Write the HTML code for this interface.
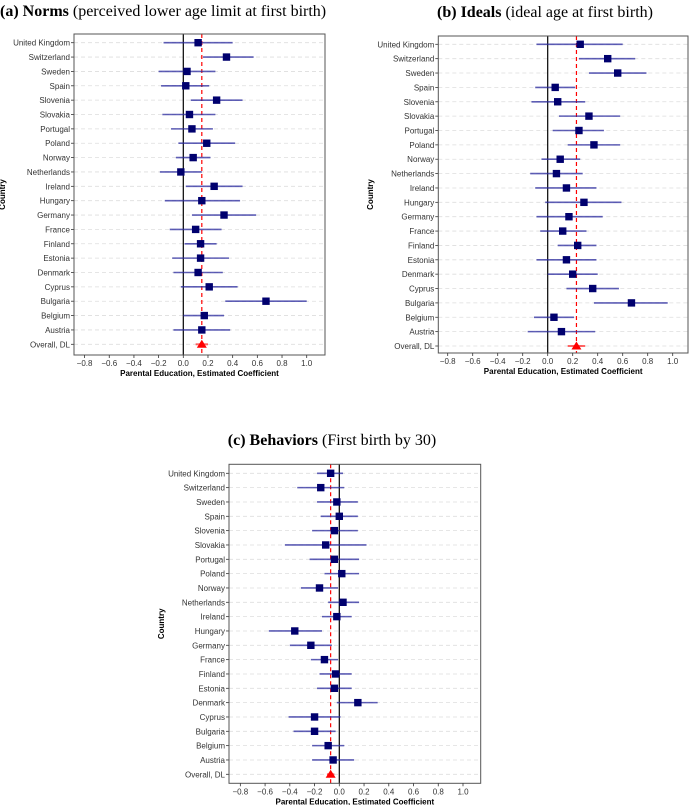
<!DOCTYPE html>
<html><head><meta charset="utf-8"><style>
body{margin:0;background:#fff;width:690px;height:805px;overflow:hidden}
svg{position:absolute;left:0;top:0}
.t{font-family:"Liberation Serif",serif;font-size:16px;fill:#000}
.l{font-family:"Liberation Sans",sans-serif;font-size:8px;fill:#333}
.ax{font-family:"Liberation Sans",sans-serif;font-size:8px;font-weight:bold;fill:#000}
</style></head><body>
<svg id="chart" width="690" height="805">
<text class="t" x="0" y="16"><tspan font-weight="bold">(a) Norms</tspan> (perceived lower age limit at first birth)</text>
<text class="t" x="545" y="17" text-anchor="middle"><tspan font-weight="bold">(b) Ideals</tspan> (ideal age at first birth)</text>
<text class="t" x="332" y="445" text-anchor="middle"><tspan font-weight="bold">(c) Behaviors</tspan> (First birth by 30)</text>
</svg>
<script>
const countries=["United Kingdom","Switzerland","Sweden","Spain","Slovenia","Slovakia","Portugal","Poland","Norway","Netherlands","Ireland","Hungary","Germany","France","Finland","Estonia","Denmark","Cyprus","Bulgaria","Belgium","Austria","Overall, DL"];
const ticks=[-0.8,-0.6,-0.4,-0.2,0.0,0.2,0.4,0.6,0.8,1.0];
const normsEst=[0.12,0.35,0.03,0.02,0.27,0.05,0.07,0.19,0.08,-0.02,0.25,0.15,0.33,0.10,0.14,0.14,0.12,0.21,0.67,0.17,0.15,0.15];
const normsLo=[-0.16,0.16,-0.20,-0.18,0.06,-0.17,-0.10,-0.04,-0.06,-0.19,0.02,-0.15,0.07,-0.11,0.01,-0.09,-0.08,-0.02,0.34,0.00,-0.08,0.10];
const normsHi=[0.40,0.57,0.26,0.21,0.48,0.26,0.24,0.42,0.22,0.15,0.48,0.46,0.59,0.31,0.27,0.37,0.32,0.44,1.00,0.33,0.38,0.20];
const idealsEst=[0.26,0.48,0.56,0.06,0.08,0.33,0.25,0.37,0.10,0.07,0.15,0.29,0.17,0.12,0.24,0.15,0.20,0.36,0.67,0.05,0.11,0.23];
const idealsLo=[-0.09,0.25,0.33,-0.10,-0.13,0.09,0.04,0.16,-0.05,-0.14,-0.10,-0.02,-0.09,-0.06,0.08,-0.09,0.00,0.15,0.37,-0.11,-0.16,0.16];
const idealsHi=[0.60,0.70,0.79,0.22,0.30,0.58,0.45,0.58,0.26,0.28,0.39,0.59,0.44,0.31,0.39,0.39,0.40,0.57,0.96,0.21,0.38,0.30];
const behEst=[-0.07,-0.15,-0.02,0.00,-0.04,-0.11,-0.04,0.02,-0.16,0.03,-0.02,-0.36,-0.23,-0.12,-0.03,-0.04,0.15,-0.20,-0.20,-0.09,-0.05,-0.07];
const behLo=[-0.18,-0.34,-0.18,-0.15,-0.22,-0.44,-0.24,-0.12,-0.31,-0.09,-0.14,-0.57,-0.40,-0.23,-0.16,-0.18,-0.02,-0.41,-0.37,-0.22,-0.22,-0.10];
const behHi=[0.03,0.04,0.15,0.15,0.15,0.22,0.16,0.16,-0.01,0.16,0.10,-0.14,-0.06,-0.01,0.10,0.10,0.31,0.01,-0.03,0.04,0.12,-0.04];
const pooled=[0.15,0.23,-0.07];

const NS="http://www.w3.org/2000/svg";
const svg=document.getElementById("chart");
function mk(tag,attrs,parent){const e=document.createElementNS(NS,tag);for(const k in attrs)e.setAttribute(k,attrs[k]);(parent||svg).appendChild(e);return e;}

function panel(id,cfg,est,lo,hi,pool){
  const g=mk("g",{});
  
  
  const x=v=>cfg.x0+v*cfg.k;
  const y=i=>cfg.yTop+i*(cfg.yBot-cfg.yTop)/(countries.length-1);
  countries.forEach((c,i)=>{
    const gl=mk("line",{x1:cfg.bx0,x2:cfg.bx1,y1:y(i),y2:y(i),stroke:"#ddd","stroke-width":0.8,"stroke-dasharray":"4,3"},g);
    
    
    const t=mk("text",{class:"l",x:cfg.bx0-4,y:y(i)+3,"text-anchor":"end"},g);t.textContent=c;
    
    
    mk("line",{x1:cfg.bx0-3,x2:cfg.bx0,y1:y(i),y2:y(i),stroke:"#333","stroke-width":0.8},g);
  });
  const zl=mk("line",{x1:x(0),x2:x(0),y1:cfg.by0,y2:cfg.by1,stroke:"#000","stroke-width":1.2},g);
  
  
  const pl=mk("line",{x1:x(pool),x2:x(pool),y1:cfg.by0,y2:cfg.by1,stroke:"#f00","stroke-width":1.2,"stroke-dasharray":"4,3"},g);
  
  
  for(let i=0;i<countries.length;i++){
    const last=i===countries.length-1;
    const col=last?"#f00":"#2a2a9e";
    const eb=mk("line",{x1:x(lo[i]),x2:x(hi[i]),y1:y(i),y2:y(i),stroke:col,"stroke-width":last?2:1.6,"stroke-opacity":last?0.6:0.75},g);
    
    
    let m;
    if(last){
      const cx=x(est[i]),cy=y(i);
      m=mk("polygon",{points:`${cx-5},${cy+3.5} ${cx+5},${cy+3.5} ${cx},${cy-4.5}`,fill:"#f00"},g);
      
    } else {
      m=mk("rect",{x:x(est[i])-3.7,y:y(i)-3.7,width:7.4,height:7.4,fill:"#00006e"},g);
      
    }
    
  }
  const box=mk("rect",{x:cfg.bx0,y:cfg.by0,width:cfg.bx1-cfg.bx0,height:cfg.by1-cfg.by0,fill:"none",stroke:"#555","stroke-width":1},g);
  
  
  ticks.forEach(v=>{
    mk("line",{x1:x(v),x2:x(v),y1:cfg.by1,y2:cfg.by1+3,stroke:"#333","stroke-width":0.8},g);
    const t=mk("text",{class:"l",x:x(v),y:cfg.by1+11,"text-anchor":"middle"},g);
    t.textContent=(v<0?"\u2212":"")+Math.abs(v).toFixed(1);
    
    
  });
  const xt=mk("text",{class:"ax",x:(cfg.bx0+cfg.bx1)/2,y:cfg.by1+21,"text-anchor":"middle"},g);
  xt.textContent="Parental Education, Estimated Coefficient";
  
  
  const yc=(cfg.by0+cfg.by1)/2;
  const yt=mk("text",{class:"ax",x:cfg.yt,y:yc,"text-anchor":"middle",transform:`rotate(-90 ${cfg.yt} ${yc})`},g);
  yt.textContent="Country";
  
  
}
panel("norms",{x0:183.3,k:123.4,yTop:42.7,yBot:344.3,bx0:74,bx1:325,by0:34,by1:355,yt:5},normsEst,normsLo,normsHi,pooled[0]);
panel("ideals",{x0:547.7,k:125,yTop:44.3,yBot:346,bx0:438.3,bx1:688,by0:36,by1:353,yt:373},idealsEst,idealsLo,idealsHi,pooled[1]);
panel("behaviors",{x0:339.3,k:123.7,yTop:473.3,yBot:774.3,bx0:229,bx1:480.7,by0:464.3,by1:783.3,yt:164},behEst,behLo,behHi,pooled[2]);
</script>
</body></html>
